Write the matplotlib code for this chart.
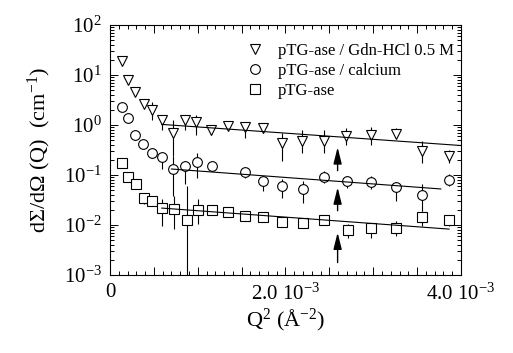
import numpy as np
import matplotlib
matplotlib.use('Agg')
import matplotlib.pyplot as plt
from matplotlib.ticker import FixedLocator, FixedFormatter, LogLocator, NullFormatter

plt.rcParams['font.family'] = 'Liberation Serif'
plt.rcParams['mathtext.fontset'] = 'custom'
plt.rcParams['mathtext.rm'] = 'Liberation Serif'
plt.rcParams['mathtext.it'] = 'Liberation Serif:italic'

# ---- data (Q^2 in A^-2, intensity in cm^-1) ----
gdn_q2 = np.array([0.140, 0.201, 0.284, 0.386, 0.481, 0.594, 0.720, 0.852, 0.985, 1.156,
                   1.341, 1.534, 1.739, 1.963, 2.193, 2.443, 2.693, 2.974, 3.258, 3.557, 3.864]) * 1e-3
gdn_i = np.array([19.2, 8.1, 4.58, 2.59, 1.96, 1.24, 0.68, 1.24, 1.14, 0.80,
                  0.94, 0.90, 0.855, 0.434, 0.49, 0.49, 0.59, 0.62, 0.67, 0.30, 0.245])
gdn_lo = np.array([19.2, 8.1, 4.58, 2.59, 1.24, 0.78, 0.245, 0.78, 0.62, 0.62,
                   0.94, 0.54, 0.68, 0.195, 0.27, 0.27, 0.39, 0.39, 0.54, 0.17, 0.177])
gdn_hi = np.array([19.2, 8.1, 4.58, 2.59, 2.88, 1.56, 1.24, 1.42, 1.56, 0.98,
                   0.94, 1.13, 1.08, 0.68, 0.78, 0.78, 0.855, 0.90, 0.855, 0.49, 0.31])

ca_q2 = np.array([0.133, 0.208, 0.284, 0.378, 0.474, 0.588, 0.720, 0.852, 0.994, 1.167,
                  1.534, 1.742, 1.963, 2.197, 2.443, 2.697, 2.974, 3.258, 3.560, 3.864]) * 1e-3
ca_i = np.array([2.31, 1.40, 0.63, 0.41, 0.278, 0.227, 0.132, 0.155, 0.182, 0.151,
                 0.113, 0.0747, 0.0593, 0.0526, 0.090, 0.0773, 0.0736, 0.0566, 0.0404, 0.0798])
ca_lo = np.array([2.31, 1.40, 0.63, 0.41, 0.223, 0.135, 0.0386, 0.067, 0.0887, 0.151,
                  0.0887, 0.0486, 0.0352, 0.0279, 0.0703, 0.0558, 0.0533, 0.0306, 0.0193, 0.0612])
ca_hi = np.array([2.31, 1.40, 0.63, 0.41, 0.339, 0.28, 0.245, 0.195, 0.27, 0.151,
                  0.135, 0.097, 0.0847, 0.0773, 0.1225, 0.097, 0.097, 0.0703, 0.067, 0.1067])

ptg_q2 = np.array([0.142, 0.208, 0.295, 0.390, 0.481, 0.588, 0.727, 0.872, 1.003, 1.167, 1.344,
                   1.534, 1.742, 1.963, 2.197, 2.443, 2.708, 2.974, 3.258, 3.560, 3.864]) * 1e-3
ptg_i = np.array([0.177, 0.090, 0.0672, 0.034, 0.0296, 0.0218, 0.0208, 0.0125, 0.0199, 0.0199, 0.0184,
                  0.0153, 0.0142, 0.01175, 0.0112, 0.0125, 0.0079, 0.00867, 0.00867, 0.0142, 0.0125])
ptg_lo = np.array([0.177, 0.090, 0.0672, 0.0267, 0.0296, 0.00964, 0.0084, 0.001, 0.01057, 0.0199, 0.0184,
                   0.0153, 0.0142, 0.01175, 0.0112, 0.0125, 0.00553, 0.00553, 0.00607, 0.00964, 0.00964])
ptg_hi = np.array([0.177, 0.090, 0.0672, 0.0424, 0.0296, 0.0336, 0.0386, 0.0612, 0.0336, 0.0199, 0.0184,
                   0.0153, 0.0142, 0.01175, 0.0112, 0.0125, 0.01057, 0.0111, 0.0121, 0.0193, 0.0153])

# linear fits (Guinier-like lines), end points
fit_gdn_x = np.array([0.59, 4.0]) * 1e-3
fit_gdn_y = np.array([1.03, 0.389])
fit_ca_x = np.array([0.70, 3.77]) * 1e-3
fit_ca_y = np.array([0.132, 0.0526])
fit_ptg_x = np.array([0.59, 3.864]) * 1e-3
fit_ptg_y = np.array([0.0218, 0.00828])

# arrows marking the fit limit
arrow_x = 2.594e-3
arrow_tail = [0.1225, 0.0193, 0.00177]
arrow_head = [0.36, 0.0566, 0.00706]

labels = ['pTG-ase / Gdn-HCl 0.5 M', 'pTG-ase / calcium', 'pTG-ase']

fig = plt.figure(figsize=(5.13, 3.53), dpi=100)
ax = fig.add_axes([0.2144, 0.221, 0.6842, 0.708])

def draw(q2, y, lo, hi, marker, ms, label):
    ax.errorbar(q2, y, yerr=[y - lo, hi - y], fmt='none', ecolor='k', elinewidth=0.8, capsize=0)
    ax.plot(q2, y, linestyle='none', marker=marker, markersize=ms, markerfacecolor='white',
            markeredgecolor='k', markeredgewidth=0.8, label=label)

draw(gdn_q2, gdn_i, gdn_lo, gdn_hi, 'v', 7.5, labels[0])
draw(ca_q2, ca_i, ca_lo, ca_hi, 'o', 7, labels[1])
draw(ptg_q2, ptg_i, ptg_lo, ptg_hi, 's', 7, labels[2])

ax.plot(fit_gdn_x, fit_gdn_y, color='k', lw=0.8)
ax.plot(fit_ca_x, fit_ca_y, color='k', lw=0.8)
ax.plot(fit_ptg_x, fit_ptg_y, color='k', lw=0.8)

for t, h in zip(arrow_tail, arrow_head):
    ax.annotate('', xy=(arrow_x, h), xytext=(arrow_x, t),
                arrowprops=dict(arrowstyle='-|>,head_length=1.0,head_width=0.25',
                                color='k', lw=1.0, shrinkA=0, shrinkB=0))

ax.set_yscale('log')
ax.set_xlim(0, 4.0e-3)
ax.set_ylim(1e-3, 1e2)

ax.xaxis.set_major_locator(FixedLocator([0, 0.5e-3, 1e-3, 1.5e-3, 2e-3, 2.5e-3, 3e-3, 3.5e-3, 4e-3]))
ax.xaxis.set_major_formatter(FixedFormatter(['0', '', r'', '', r'2.0 10$^{-3}$', '', '', '', r'4.0 10$^{-3}$']))
ax.xaxis.set_minor_locator(FixedLocator(np.arange(0, 4.01e-3, 0.1e-3)))
ax.yaxis.set_major_locator(LogLocator(base=10, numticks=10))
ax.yaxis.set_minor_locator(LogLocator(base=10, subs=np.arange(2, 10), numticks=10))
ax.yaxis.set_minor_formatter(NullFormatter())

ax.tick_params(which='both', direction='in', top=True, right=True, width=0.7, labelsize=15, pad=6)
ax.tick_params(which='major', length=6)
ax.tick_params(which='minor', length=3)
for s in ax.spines.values():
    s.set_linewidth(0.8)

ax.set_xlabel(r'Q$^{2}$ (Å$^{-2}$)', fontsize=16, labelpad=2)
ax.set_ylabel(r'd$\Sigma$/d$\Omega$ (Q)  (cm$^{-1}$)', fontsize=16, labelpad=8)

ax.legend(loc='upper left', bbox_to_anchor=(0.365, 0.955), frameon=False, fontsize=12,
          handletextpad=0.8, labelspacing=0.25, borderaxespad=0, handlelength=1.2)

fig.savefig('out.png', dpi=100)
